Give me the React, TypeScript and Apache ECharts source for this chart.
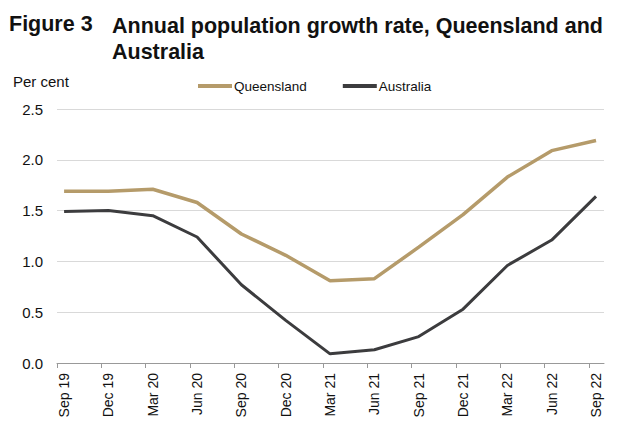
import { useEffect, useRef } from "react";
import * as echarts from "echarts";

const categories = ["Sep 19", "Dec 19", "Mar 20", "Jun 20", "Sep 20", "Dec 20", "Mar 21", "Jun 21", "Sep 21", "Dec 21", "Mar 22", "Jun 22", "Sep 22"];
const queensland = [1.69, 1.69, 1.71, 1.58, 1.27, 1.06, 0.81, 0.83, 1.14, 1.46, 1.83, 2.09, 2.19];
const australia = [1.49, 1.50, 1.45, 1.24, 0.77, 0.42, 0.09, 0.13, 0.26, 0.53, 0.96, 1.21, 1.64];
const seriesNames = ["Queensland", "Australia"];
const titleLead = "Figure 3";
const titleText = "Annual population growth rate, Queensland and\nAustralia";
const yAxisName = "Per cent";

const FONT = "'Liberation Sans', Arial, sans-serif";
const OFFSET = 0.16;

export default function App() {
  const ref = useRef<HTMLDivElement>(null);
  useEffect(() => {
    const chart = echarts.init(ref.current!, null, { renderer: "svg" });
    const toPts = (arr: number[]) => arr.map((v, i) => [i + OFFSET, v]);
    chart.setOption({
      animation: false,
      textStyle: { fontFamily: FONT },
      graphic: [
        { type: "text", left: 9, top: 13, style: { text: titleLead, font: `bold 21.5px ${FONT}`, fill: "#111" } },
        { type: "text", left: 112, top: 13, style: { text: titleText, font: `bold 21.5px ${FONT}`, fill: "#111", lineHeight: 26 } },
        { type: "text", left: 13, top: 74, style: { text: yAxisName, font: `15px ${FONT}`, fill: "#111" } },
      ],
      legend: {
        left: 198,
        top: 79,
        padding: 0,
        itemWidth: 34,
        itemHeight: 4,
        itemGap: 36,
        icon: "rect",
        textStyle: { fontFamily: FONT, fontSize: 13.5, color: "#111", padding: [0, 0, 0, -3] },
        data: seriesNames,
      },
      grid: { left: 57, right: 20, top: 109, bottom: 81 },
      xAxis: {
        type: "value",
        min: 0,
        max: 12.34,
        splitLine: { show: false },
        axisLine: { show: true, lineStyle: { color: "#999", width: 1 } },
        axisTick: { show: true, length: 5, lineStyle: { color: "#999" }, customValues: categories.map((_, i) => i) },
        axisLabel: {
          rotate: 90,
          margin: 10,
          fontSize: 14,
          color: "#111",
          fontFamily: FONT,
          customValues: categories.map((_, i) => i + OFFSET),
          formatter: (v: number) => categories[Math.round(v - OFFSET)] ?? "",
        },
      },
      yAxis: {
        type: "value",
        min: 0,
        max: 2.5,
        interval: 0.5,
        axisLine: { show: false },
        axisTick: { show: false },
        splitLine: { lineStyle: { color: "#d9d9d9", width: 1 } },
        axisLabel: { fontSize: 15, color: "#111", margin: 14, fontFamily: FONT, formatter: (v: number) => v.toFixed(1) },
      },
      series: [
        {
          name: seriesNames[0],
          type: "line",
          data: toPts(queensland),
          symbol: "none",
          lineStyle: { width: 3.5, color: "#B59B6A" },
          itemStyle: { color: "#B59B6A" },
        },
        {
          name: seriesNames[1],
          type: "line",
          data: toPts(australia),
          symbol: "none",
          lineStyle: { width: 3, color: "#3c3c3e" },
          itemStyle: { color: "#3c3c3e" },
        },
      ],
    });
    return () => chart.dispose();
  }, []);
  return <div ref={ref} style={{ width: 624, height: 444, position: "absolute", left: 0, top: 0, background: "#fff" }} />;
}
